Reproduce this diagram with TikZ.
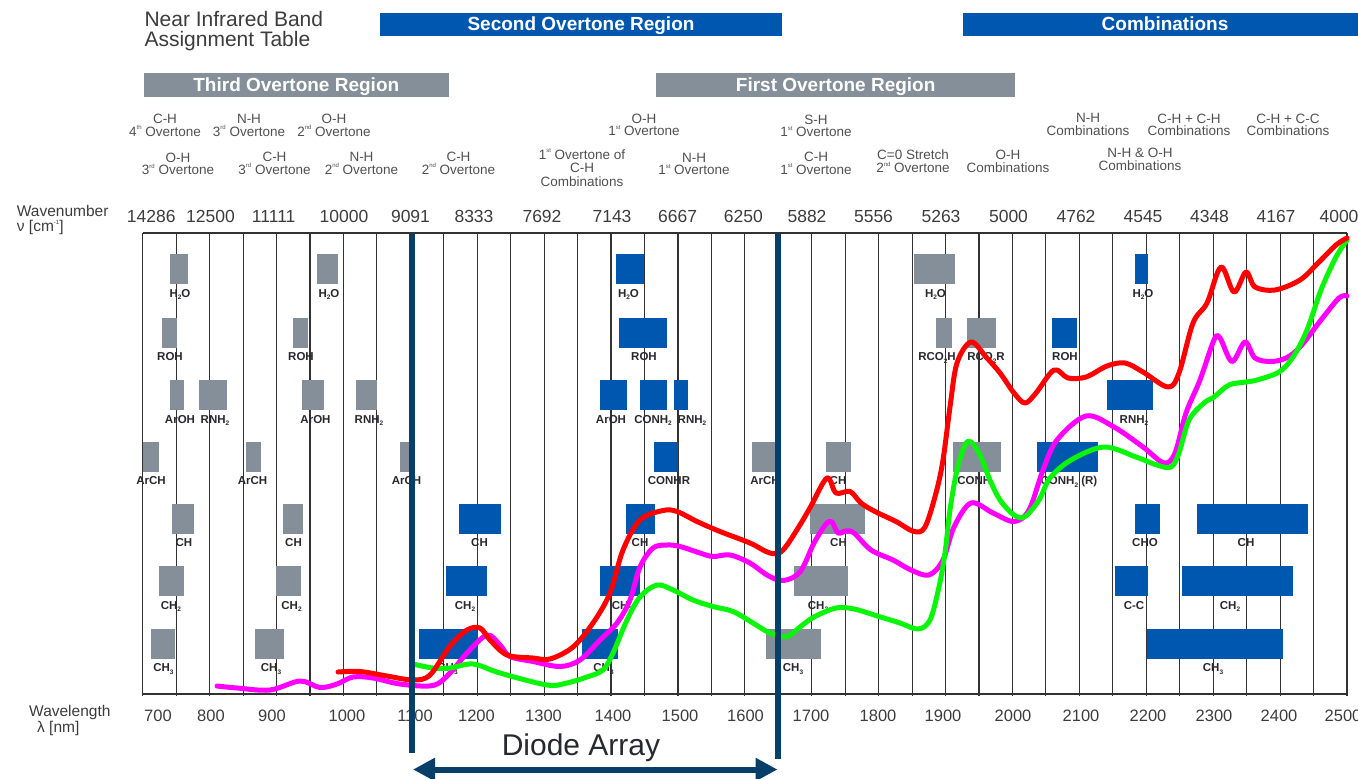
\documentclass[tikz,border=0pt]{standalone}
\usepackage{fontspec}
\setmainfont{Liberation Sans}
\usetikzlibrary{arrows.meta}
\definecolor{boxgrey}{RGB}{132,143,153}
\definecolor{boxblue}{RGB}{0,87,175}
\definecolor{navy}{RGB}{7,63,104}
\definecolor{labc}{RGB}{40,40,48}
\definecolor{annc}{RGB}{80,80,80}
\definecolor{numc}{RGB}{60,60,60}
\definecolor{gridc}{RGB}{50,50,50}
\definecolor{crvred}{RGB}{255,0,0}
\definecolor{crvmag}{RGB}{255,0,255}
\definecolor{crvgreen}{RGB}{10,245,10}
\newcommand\ordsup[1]{\smash{\raisebox{0.48em}{\fontsize{6}{6}\selectfont #1}}}
\newcommand\lsub[1]{\raisebox{-0.25em}{\fontsize{6.5}{6.5}\selectfont #1}}
\newcommand\band[7]{\fill[#2] (#3,#5) rectangle (#4,#5+30); \node[lab] (#1) at (#7,#5+43) {#6};}
\begin{document}
\begin{tikzpicture}[x=1pt,y=-1pt,
  lab/.style={font=\fontsize{11.5}{12}\selectfont\bfseries, text=labc, inner sep=0, anchor=base},
  ann/.style={font=\fontsize{13.5}{12.7}\selectfont, text=annc, align=center, inner sep=0, anchor=north},
  hdr/.style={font=\fontsize{19}{19}\selectfont\bfseries, text=white, inner sep=0, anchor=base},
  wnum/.style={font=\fontsize{17.5}{18}\selectfont, text=numc, inner sep=0, anchor=base},
  wlen/.style={font=\fontsize{16.5}{17}\selectfont, text=numc, inner sep=0, anchor=base},
  axlab/.style={font=\fontsize{15.5}{16}\selectfont, text=numc, inner sep=0, anchor=base west},
  gridline/.style={draw=gridc, line width=1.1pt},
  curve/.style={line width=5pt, line cap=round, line join=round},
  thick line/.style={draw=navy, line width=6pt}]
\useasboundingbox (0,0) rectangle (1358,779);

% title
\node[font=\fontsize{21}{21}\selectfont, text=numc, inner sep=0, anchor=base west] (t1) at (144.3,26.7) {Near Infrared Band};
\node[font=\fontsize{21}{21}\selectfont, text=numc, inner sep=0, anchor=base west] (t2) at (144.3,46.7) {Assignment Table};

% header bars
\fill[boxblue] (380,13.3) rectangle (782,36);
\node[hdr] (second) at (581,30.8) {Second Overtone Region};
\fill[boxblue] (963,13.3) rectangle (1358,36);
\node[hdr] (comb) at (1165,30.8) {Combinations};
\fill[boxgrey] (144,73.3) rectangle (448.7,96.7);
\node[hdr] (third) at (296.3,91.3) {Third Overtone Region};
\fill[boxgrey] (656,73.3) rectangle (1015.4,96.7);
\node[hdr] (first) at (835.7,91.3) {First Overtone Region};

% annotations, top row
\node[ann] (a1) at (165,114) {C-H\\4\ordsup{th} Overtone};
\node[ann] (a2) at (249,114) {N-H\\3\ordsup{rd} Overtone};
\node[ann] (a3) at (334,114) {O-H\\2\ordsup{nd} Overtone};
\node[ann] (a4) at (644,113.5) {O-H\\1\ordsup{st} Overtone};
\node[ann] (a5) at (816,114.5) {S-H\\1\ordsup{st} Overtone};
\node[ann] (a6) at (1088,113.5) {N-H\\Combinations};
\node[ann] (a7) at (1189,113.5) {C-H + C-H\\Combinations};
\node[ann] (a8) at (1288,113.5) {C-H + C-C\\Combinations};
% annotations, second row
\node[ann] (b1) at (178,152.5) {O-H\\3\ordsup{rd} Overtone};
\node[ann] (b2) at (274.5,152) {C-H\\3\ordsup{rd} Overtone};
\node[ann] (b3) at (361.5,152) {N-H\\2\ordsup{nd} Overtone};
\node[ann] (b4) at (458.5,152) {C-H\\2\ordsup{nd} Overtone};
\node[ann, font=\fontsize{13.5}{13.5}\selectfont] (b5) at (582,149.3) {1\ordsup{st} Overtone of\\C-H\\Combinations};
\node[ann] (b6) at (694,152.7) {N-H\\1\ordsup{st} Overtone};
\node[ann] (b7) at (816,151.7) {C-H\\1\ordsup{st} Overtone};
\node[ann] (b8) at (913,150) {C=0 Stretch\\2\ordsup{nd} Overtone};
\node[ann] (b9) at (1008,150) {O-H\\Combinations};
\node[ann] (b10) at (1140,148) {N-H \& O-H\\Combinations};

% axis titles
\node[axlab] (wn1) at (16.7,216.2) {Wavenumber};
\node[axlab] (wn2) at (16.7,231.5) {ν [cm\ordsup{-1}]};
\node[axlab] (wl1) at (29,716.2) {Wavelength};
\node[axlab] (wl2) at (37,732.5) {λ [nm]};

% wavenumber labels
\foreach \x/\t [count=\k] in {151.3/14286,210.5/12500,273.7/11111,344/10000,410.5/9091,474/8333,542/7692,612/7143,677.7/6667,743.3/6250,807/5882,873.5/5556,941/5263,1008.5/5000,1076/4762,1143/4545,1209.5/4348,1276/4167,1339/4000}
  \node[wnum] (wn\k) at (\x,222.7) {\t};
% wavelength labels
\foreach \x/\t [count=\k] in {158/700,211/800,272/900,347/1000,415/1100,476.5/1200,543.5/1300,613/1400,680/1500,745.5/1600,811/1700,878/1800,943/1900,1013/2000,1081/2100,1148/2200,1214/2300,1279/2400,1343/2500}
  \node[wlen] (wl\k) at (\x,721.7) {\t};

% grid
\foreach \i in {0,...,36}
  \draw[gridline] ({142.7+\i*33.453},233) -- ++(0,463);
\draw[gridline] (142.7,233) -- (1347,233);
\draw[gridline] (142.7,694) -- (1347,694);

% bands, row 1
\band{h2oA}{boxgrey}{170}{188}{254}{H\lsub2O}{180}
\band{h2oB}{boxgrey}{317}{337.5}{254}{H\lsub2O}{329}
\band{h2oC}{boxblue}{616}{643.5}{254}{H\lsub2O}{628.5}
\band{h2oD}{boxgrey}{913.5}{954.5}{254}{H\lsub2O}{935.5}
\band{h2oE}{boxblue}{1134.5}{1148}{254}{H\lsub2O}{1143}
% row 2
\band{rohA}{boxgrey}{161.5}{176.5}{317.5}{ROH}{170}
\band{rohB}{boxgrey}{292.5}{307.5}{317.5}{ROH}{301}
\band{rohC}{boxblue}{618.5}{666.5}{317.5}{ROH}{644}
\band{rcoA}{boxgrey}{936}{951.5}{317.5}{RCO\lsub2H}{937}
\band{rcoB}{boxgrey}{967}{995.5}{317.5}{RCO\lsub2R}{986}
\band{rohD}{boxblue}{1052}{1077}{317.5}{ROH}{1065}
% row 3
\band{aroA}{boxgrey}{170}{183.5}{380}{ArOH}{180}
\band{rnhA}{boxgrey}{198.5}{226.5}{380}{RNH\lsub2}{215}
\band{aroB}{boxgrey}{301.5}{323.5}{380}{ArOH}{315.5}
\band{rnhB}{boxgrey}{355.5}{377}{380}{RNH\lsub2}{369}
\band{aroC}{boxblue}{599.5}{627}{380}{ArOH}{611}
\band{conA}{boxblue}{639.5}{666.5}{380}{CONH\lsub2}{653}
\band{rnhC}{boxblue}{673.5}{687.5}{380}{RNH\lsub2}{692}
\band{rnhD}{boxblue}{1107}{1152.5}{380}{RNH\lsub2}{1134}
% row 4
\band{archA}{boxgrey}{143}{159}{441.5}{ArCH}{151}
\band{archB}{boxgrey}{245.5}{260.5}{441.5}{ArCH}{252.5}
\band{archC}{boxgrey}{399.5}{411}{441.5}{ArCH}{406.5}
\band{conhr}{boxblue}{653.5}{677.5}{441.5}{CONHR}{669}
\band{archD}{boxgrey}{751.5}{777}{441.5}{ArCH}{765}
\band{chA}{boxgrey}{826}{851}{441.5}{CH}{838}
\band{conB}{boxgrey}{953}{1000.5}{441.5}{CONH\lsub2}{976}
\band{conC}{boxblue}{1037}{1098}{441.5}{CONH\lsub2\ (R)}{1069}
% row 5
\band{chB}{boxgrey}{171.5}{193.5}{503.5}{CH}{184}
\band{chC}{boxgrey}{282.5}{303}{503.5}{CH}{293.5}
\band{chD}{boxblue}{458.5}{500.5}{503.5}{CH}{479.5}
\band{chE}{boxblue}{625.5}{654.5}{503.5}{CH}{640}
\band{chF}{boxgrey}{809.5}{864.5}{503.5}{CH}{838.5}
\band{cho}{boxblue}{1134.5}{1159.5}{503.5}{CHO}{1145}
\band{chG}{boxblue}{1197}{1308}{503.5}{CH}{1246}
% row 6
\band{chtA}{boxgrey}{159}{183.5}{566}{CH\lsub2}{171}
\band{chtB}{boxgrey}{275.5}{300.5}{566}{CH\lsub2}{291.5}
\band{chtC}{boxblue}{446}{487}{566}{CH\lsub2}{465}
\band{chtD}{boxblue}{599.5}{640}{566}{CH\lsub2}{622}
\band{chtE}{boxgrey}{793.5}{848}{566}{CH\lsub2}{818}
\band{cc}{boxblue}{1114.5}{1148}{566}{C-C}{1134}
\band{chtF}{boxblue}{1182}{1293}{566}{CH\lsub2}{1230}
% row 7
\band{chhA}{boxgrey}{150.5}{175}{628.5}{CH\lsub3}{163.5}
\band{chhB}{boxgrey}{255}{283.5}{628.5}{CH\lsub3}{271}
\band{chhC}{boxblue}{418.5}{477.5}{628.5}{CH\lsub3}{447.5}
\band{chhD}{boxblue}{581.5}{617.5}{628.5}{CH\lsub3}{603.5}
\band{chhE}{boxgrey}{765.5}{820.5}{628.5}{CH\lsub3}{793}
\band{chhF}{boxblue}{1147}{1283}{628.5}{CH\lsub3}{1213}

% spectra
\draw[curve, crvmag] plot[smooth, tension=0.55] coordinates {
(217,686) (237,688) (270,690) (300,681) (320,687.5) (337,684) (353,677) (373,678) (400,684)
(433,685.5) (450,673) (467,653) (487,635) (500,645) (510,656.5) (533,661.5) (560,666.5)
(580,660) (600,640) (617,623) (630,600) (640,567) (653,548) (667,545) (680,546.5) (700,553)
(713,556.5) (730,555) (750,563) (767,575) (783,580.5) (800,572) (814,543) (826,524) (832,522)
(838,533) (846,531) (854,533) (871,550) (893,560) (911,570) (929,575) (943,560) (954,527)
(971,503) (993,513) (1014,521.5) (1029,510) (1043,470) (1057,440) (1086,416) (1114,427)
(1143,447) (1164,463) (1175,453) (1186,413) (1200,380) (1214,340) (1220,338) (1232,361.5)
(1245,342) (1255,358) (1271,361.5) (1286,358) (1300,347) (1321,320) (1339,298) (1347,296)};
\draw[curve, crvgreen] plot[smooth, tension=0.55] coordinates {
(415,664.5) (433,668) (450,668) (473,664) (500,673) (547,685) (567,683) (587,677) (603,670)
(613,653) (627,620) (640,597) (657,585) (673,590) (693,600) (713,606.5) (733,611.5) (753,623)
(770,633) (787,636.5) (800,627) (814,617) (836,608) (854,609) (879,616.5) (900,623) (918,629)
(930,620) (939,587) (945,553) (950,510) (957,470) (965,445) (971,442) (980,455) (990,480)
(1000,500) (1014,515) (1025,516.5) (1039,500) (1050,478) (1071,460) (1104,447) (1136,457)
(1157,465) (1171,467) (1179,453) (1189,420) (1204,403) (1214,397) (1229,385) (1246,382)
(1257,380) (1279,372) (1293,357) (1307,330) (1321,290) (1336,257) (1347,240)};
\draw[curve, crvred] plot[smooth, tension=0.55] coordinates {
(338,672) (360,671.5) (387,676) (413,680) (430,675) (450,646) (467,630) (480,628) (490,640)
(507,655) (533,658) (550,659) (573,647) (593,623) (610,593) (623,550) (640,520) (663,510.5)
(677,511.5) (697,521.5) (720,531.5) (750,543) (770,553) (783,550) (803,520) (811,506) (827,478)
(836,493) (850,491.5) (861,503) (875,511.5) (896,521.5) (914,531.5) (925,527) (936,493)
(943,460) (950,407) (957,363) (971,342) (986,357) (1000,373) (1014,393) (1025,403) (1036,393)
(1054,370) (1068,378) (1086,377) (1107,366) (1125,363) (1143,372) (1168,387) (1179,373)
(1193,323) (1207,303) (1221,267) (1234,292) (1246,272) (1255,287) (1275,290) (1300,280)
(1318,263) (1336,245) (1347,238)};

% diode array range
\coordinate (dL1) at (411.7,234);
\coordinate (dL2) at (411.7,753.3);
\coordinate (dR1) at (778.3,234);
\coordinate (dR2) at (778.3,759.3);
\coordinate (aL) at (413,769.5);
\coordinate (aR) at (777.5,769.5);
\draw[thick line] (dL1) -- (dL2);
\draw[thick line] (dR1) -- (dR2);
\draw[draw=navy, line width=6pt, {Triangle[length=22pt,width=22pt]}-{Triangle[length=22pt,width=22pt]}] (aL) -- (aR);
\node[font=\fontsize{30}{30}\selectfont, text=labc, inner sep=0, anchor=base] (diode) at (581,755) {Diode Array};
\end{tikzpicture}
\end{document}
